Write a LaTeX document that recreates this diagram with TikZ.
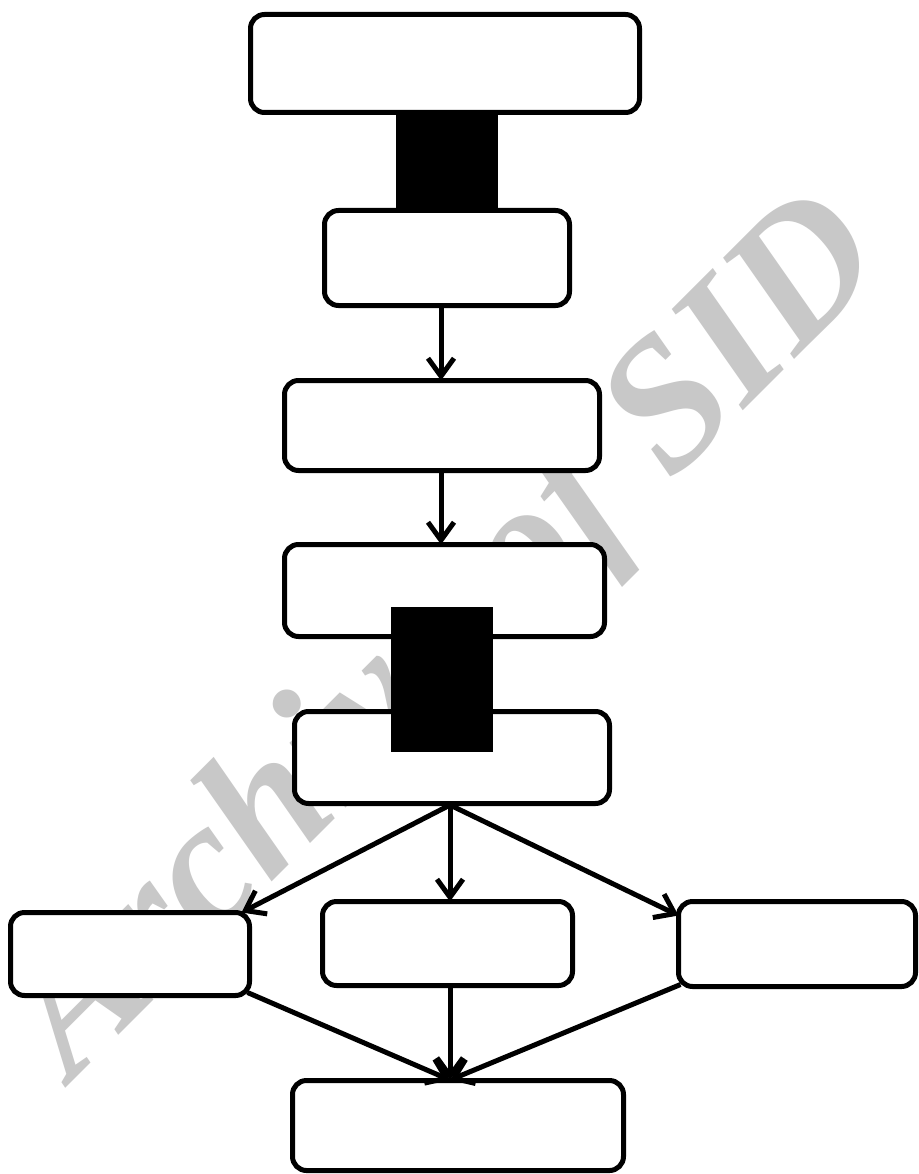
\documentclass[tikz,border=0pt]{standalone}
\usepackage{fontspec}
\newfontfamily\wmfont{Liberation Serif}
\usetikzlibrary{arrows.meta,calc}
\definecolor{wmgray}{RGB}{200,200,200}
\begin{document}
\begin{tikzpicture}[x=1pt,y=-1pt,
  box/.style={draw=black,line width=5pt,rounded corners=14pt,fill=white,inner sep=0pt,outer sep=0pt},
  blk/.style={fill=black,draw=none,inner sep=0pt,outer sep=0pt},
  arr/.style={line width=5pt,-{Straight Barb[length=18pt,width=26pt,line width=5pt]}}]
\useasboundingbox[fill=white] (0,0) rectangle (918,1174);
% watermark
\node[rotate=45,anchor=base west,text=wmgray,inner sep=0pt,
      font=\wmfont\bfseries\itshape\fontsize{186pt}{186pt}\selectfont] (wm) at (72,1082) {Archive of SID};
% boxes
\node[box,minimum width=389pt,minimum height=98pt] (b1) at (445,63.5) {};
\node[box,minimum width=245pt,minimum height=95pt] (b2) at (447,258) {};
\node[box,minimum width=315pt,minimum height=90pt] (b3) at (442,425.5) {};
\node[box,minimum width=320pt,minimum height=92pt] (b4) at (444.5,590.5) {};
\node[box,minimum width=315pt,minimum height=92pt] (b5) at (452,757.5) {};
\node[box,minimum width=239pt,minimum height=83pt] (bl) at (130,954) {};
\node[box,minimum width=250pt,minimum height=84pt] (bc) at (447.5,943.5) {};
\node[box,minimum width=237pt,minimum height=85pt] (br) at (797,944) {};
\node[box,minimum width=331pt,minimum height=90pt] (bb) at (458,1125.5) {};
% black blocks
\node[blk,minimum width=102pt,minimum height=93pt] (k1) at (447,161.5) {};
\node[blk,minimum width=102pt,minimum height=145pt] (k2) at (442,679.5) {};
% connectors
\coordinate (o5) at (450,805);
\coordinate (ib) at (450,1080);
\draw[arr] (441,0 |- b2.south) -- (441,0 |- b3.north);
\draw[arr] (441,0 |- b3.south) -- (441,0 |- b4.north);
\draw[arr] (o5) -- ($(bl.north east)+(-8,0)$);
\draw[arr] (o5) -- (450,0 |- bc.north);
\draw[arr] (o5) -- ($(br.north west)+(0,14)$);
\draw[arr] ($(bl.south east)+(-2,-3)$) -- (ib);
\draw[arr] (450,0 |- bc.south) -- (ib);
\draw[arr] ($(br.south west)+(2,-2)$) -- (ib);
\end{tikzpicture}
\end{document}
